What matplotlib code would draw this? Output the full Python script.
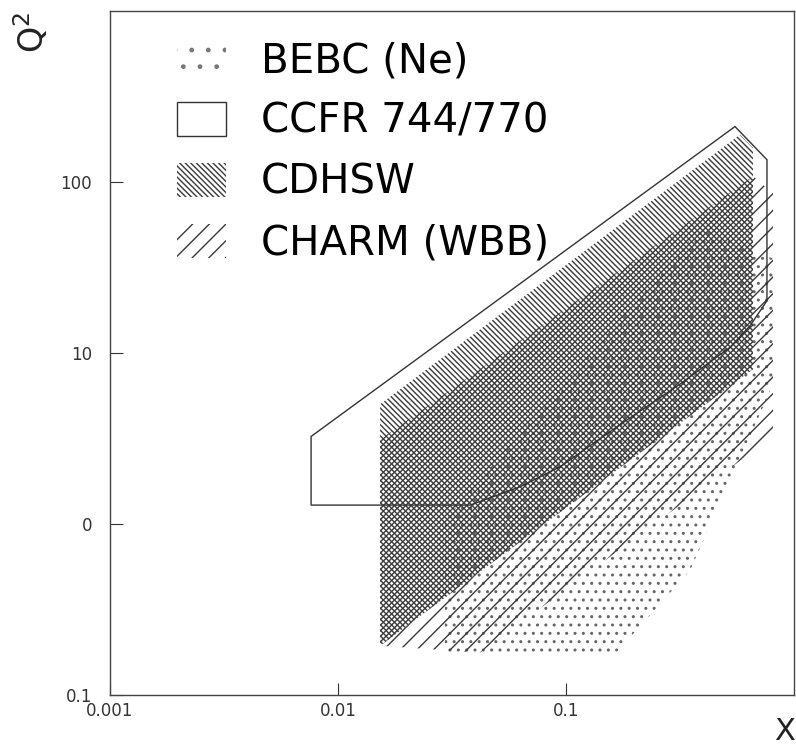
import matplotlib
matplotlib.use('Agg')
import matplotlib.pyplot as plt
from matplotlib.patches import Patch

# region boundaries (x, Q^2)
ccfr_x = [0.00762, 0.00762, 0.551, 0.761, 0.761, 0.641, 0.524, 0.316, 0.173, 0.0942, 0.0628, 0.0380]
ccfr_q2 = [1.29, 3.25, 211, 135, 20.2, 14.4, 10.8, 6.57, 3.82, 2.16, 1.65, 1.29]

cdhsw_x = [0.0153, 0.0153, 0.0851, 0.661, 0.661, 0.579]
cdhsw_q2 = [5.01, 0.194, 1.06, 8.05, 158, 189]

# CHARM is drawn in two parts: dense where it overlaps CDHSW, sparse outside
charm_dense_x = [0.0153, 0.0153, 0.661, 0.661]
charm_dense_q2 = [3.12, 0.194, 8.05, 108]
charm_sparse_x = [0.0153, 0.0420, 0.809, 0.809, 0.661, 0.661]
charm_sparse_q2 = [0.194, 0.177, 3.25, 86.1, 108, 8.05]

bebc_x = [0.0294, 0.161, 0.233, 0.350, 0.579, 0.809, 0.809, 0.387, 0.0294]
bebc_q2 = [0.169, 0.169, 0.292, 0.536, 2.38, 6.57, 35.7, 53.6, 1.06]

labels = ['BEBC (Ne)', 'CCFR 744/770', 'CDHSW', 'CHARM (WBB)']

x_ticks = [0.001, 0.01, 0.1]
x_tick_labels = ['0.001', '0.01', '0.1']
y_ticks = [0.1, 1, 10, 100]
y_tick_labels = ['0.1', '0', '10', '100']

plt.rcParams['hatch.linewidth'] = 1.0
plt.rcParams['font.family'] = ['DejaVu Sans']

fig = plt.figure(figsize=(7.96, 7.46), dpi=100)
ax = fig.add_axes([110 / 796, 51 / 746, 684 / 796, 684 / 746])

bebc = ax.fill(bebc_x, bebc_q2, facecolor='none', edgecolor='#666666', linewidth=0, hatch='..', zorder=1)[0]
charm = ax.fill(charm_sparse_x, charm_sparse_q2, facecolor='none', edgecolor='#3a3a3a', linewidth=0, hatch='//', zorder=2)[0]
ax.fill(charm_dense_x, charm_dense_q2, facecolor='none', edgecolor='#3a3a3a', linewidth=0, hatch='//////', zorder=2)
cdhsw = ax.fill(cdhsw_x, cdhsw_q2, facecolor='none', edgecolor='#3a3a3a', linewidth=0, hatch='\\' * 6, zorder=3)[0]
ccfr = ax.fill(ccfr_x, ccfr_q2, facecolor='none', edgecolor='#333333', linewidth=1.0, zorder=4)[0]

ax.set_xscale('log')
ax.set_yscale('log')
ax.set_xlim(0.001, 1)
ax.set_ylim(0.1, 1000)
ax.set_xticks(x_ticks)
ax.set_xticklabels(x_tick_labels)
ax.set_yticks(y_ticks)
ax.set_yticklabels(y_tick_labels)
ax.minorticks_off()
ax.tick_params(direction='in', length=9, width=0.8, color='#333333', labelsize=12, labelcolor='#333333')
ax.tick_params(axis='y', pad=13)
ax.tick_params(axis='x', pad=5)
for sp in ax.spines.values():
    sp.set_linewidth(1.0)
    sp.set_color('#444444')

# legend: the BEBC key uses sparser dots than the region itself
bebc_key = Patch(facecolor='none', edgecolor='#777777', linewidth=0, hatch='.')
ax.legend([bebc_key, ccfr, cdhsw, charm], labels, loc='upper left',
          bbox_to_anchor=(177 / 796, 705 / 746), bbox_transform=fig.transFigure,
          frameon=False, fontsize=29, handlelength=1.22, handleheight=0.9,
          handletextpad=0.87, labelspacing=0.52, borderpad=0, borderaxespad=0)

fig.text(0.040, 0.956, r'Q$^{2}$', rotation=90, fontsize=24, ha='center', va='center', color='#222222')
fig.text(0.986, 0.020, 'X', fontsize=22, ha='center', va='center', color='#222222')

plt.savefig('out.png', dpi=100)
